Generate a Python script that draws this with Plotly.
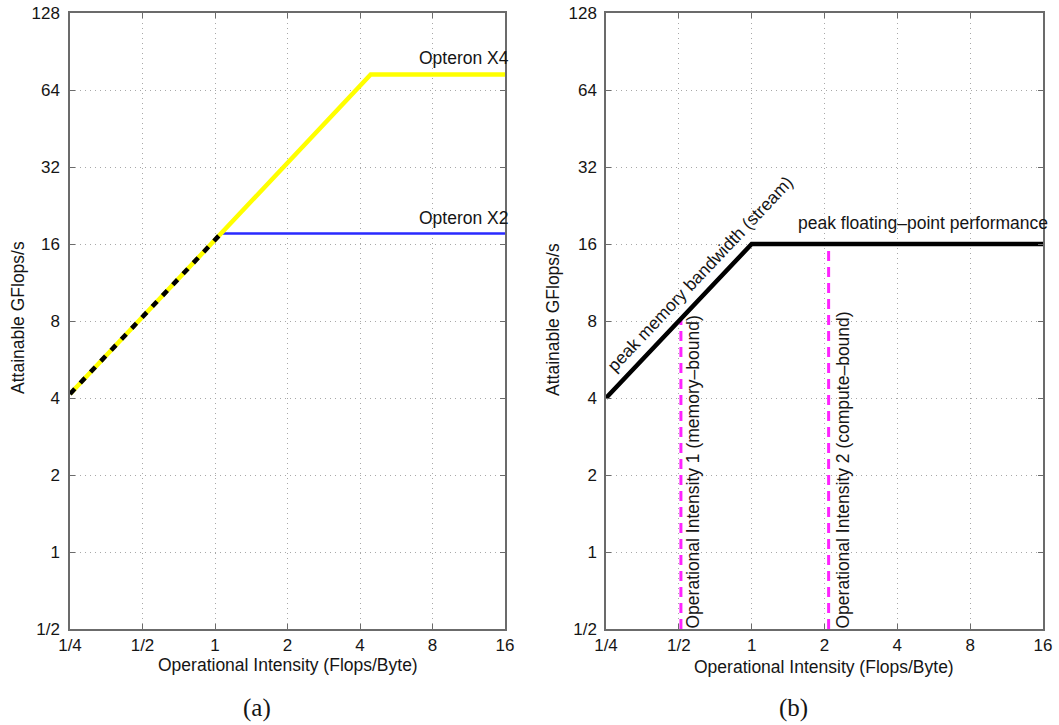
import math
import plotly.graph_objects as go

# ---------------- data ----------------
x_ticks = [0.25, 0.5, 1, 2, 4, 8, 16]
x_tick_text = ["1/4", "1/2", "1", "2", "4", "8", "16"]
y_ticks = [0.5, 1, 2, 4, 8, 16, 32, 64, 128]
y_tick_text = ["1/2", "1", "2", "4", "8", "16", "32", "64", "128"]

# panel (a): Opteron rooflines
x2_oi = [0.25, 1.06, 16]
x2_perf = [4.15, 17.6, 17.6]
x4_oi = [0.25, 4.43, 16]
x4_perf = [4.15, 73.6, 73.6]
x2_slope_oi = [0.25, 1.06]
x2_slope_perf = [4.15, 17.6]

# panel (b): generic roofline
roof_oi = [0.25, 1, 16]
roof_perf = [4, 16, 16]
oi1 = 0.51
oi2 = 2.08
oi1_top = 8.16
oi2_top = 16

W, H = 1059, 725
FONT = "Liberation Sans, Arial, sans-serif"
AX = "#6b6b6b"
TXT = "#151515"

fig = go.Figure()

# ---- panel (a)
fig.add_trace(go.Scatter(x=x2_oi, y=x2_perf, mode="lines", xaxis="x", yaxis="y",
                         line=dict(color="#2a2aff", width=2.5), showlegend=False))
fig.add_trace(go.Scatter(x=x4_oi, y=x4_perf, mode="lines", xaxis="x", yaxis="y",
                         line=dict(color="#ffff00", width=4.5), showlegend=False))
fig.add_trace(go.Scatter(x=x2_slope_oi, y=x2_slope_perf, mode="lines", xaxis="x", yaxis="y",
                         line=dict(color="black", width=4.5, dash="7px,8px"), showlegend=False))

# ---- panel (b)
fig.add_trace(go.Scatter(x=[oi1, oi1], y=[0.5, oi1_top], mode="lines", xaxis="x2", yaxis="y2",
                         line=dict(color="#ff22ff", width=3, dash="10px,6px"), showlegend=False))
fig.add_trace(go.Scatter(x=[oi2, oi2], y=[0.5, oi2_top], mode="lines", xaxis="x2", yaxis="y2",
                         line=dict(color="#ff22ff", width=3, dash="10px,6px"), showlegend=False))
fig.add_trace(go.Scatter(x=roof_oi, y=roof_perf, mode="lines", xaxis="x2", yaxis="y2",
                         line=dict(color="black", width=4.5), showlegend=False))

ax_common = dict(type="log", showline=True, linecolor=AX, linewidth=1.5, mirror="ticks",
                 ticks="inside", ticklen=5, tickcolor=AX, tickwidth=1, automargin=False,
                 showgrid=True, gridcolor="#a8a8a8", griddash="1px,4px", gridwidth=1,
                 zeroline=False, tickfont=dict(family=FONT, size=17, color=TXT))

xr = [math.log10(0.25), math.log10(16)]
yr = [math.log10(0.5), math.log10(128)]
ydom = [1 - 629 / H, 1 - 13 / H]

fig.update_layout(
    width=W, height=H, margin=dict(l=0, r=0, t=0, b=0, autoexpand=False),
    paper_bgcolor="white", plot_bgcolor="white",
    font=dict(family=FONT, color=TXT),
    xaxis=dict(ax_common, domain=[70 / W, 505 / W], range=xr, anchor="y",
               tickvals=x_ticks, ticktext=x_tick_text),
    yaxis=dict(ax_common, domain=ydom, range=yr, anchor="x", ticklabelstandoff=5,
               tickvals=y_ticks, ticktext=y_tick_text),
    xaxis2=dict(ax_common, domain=[606 / W, 1043 / W], range=xr, anchor="y2",
                tickvals=x_ticks, ticktext=x_tick_text),
    yaxis2=dict(ax_common, domain=ydom, range=yr, anchor="x2", ticklabelstandoff=4,
                tickvals=y_ticks, ticktext=y_tick_text),
)

def ann(text, x, y, xref="paper", yref="paper", size=17.5, angle=0, xa="center", ya="middle",
        family=FONT):
    fig.add_annotation(text=text, x=x, y=y, xref=xref, yref=yref, showarrow=False,
                       textangle=angle, xanchor=xa, yanchor=ya,
                       font=dict(family=family, size=size, color=TXT))

# axis titles
ann("Operational Intensity (Flops/Byte)", 288 / W, 1 - 665 / H)
ann("Operational Intensity (Flops/Byte)", 824 / W, 1 - 667 / H)
ann("Attainable GFlops/s", 18 / W, 1 - 318 / H, angle=-90)
ann("Attainable GFlops/s", 553 / W, 1 - 320 / H, angle=-90)

# panel labels
ann("(a)", 257 / W, 1 - 708 / H, size=25, family="Liberation Serif, Times New Roman, serif")
ann("(b)", 793 / W, 1 - 708 / H, size=25, family="Liberation Serif, Times New Roman, serif")

# panel (a) labels
ann("Opteron X4", 511 / W, 1 - 58 / H, xa="right")
ann("Opteron X2", 511 / W, 1 - 218 / H, xa="right")

# panel (b) labels
ann("peak floating\u2013point performance", 1050 / W, 1 - 223 / H, xa="right")
ann("peak memory bandwidth (stream)", math.log10(0.612), math.log10(12.2), xref="x2", yref="y2",
    angle=-46.6)
ann("Operational Intensity 1 (memory\u2013bound)", 692 / W, 1 - 631 / H, angle=-90, ya="bottom")
ann("Operational Intensity 2 (compute\u2013bound)", 842 / W, 1 - 631 / H, angle=-90, ya="bottom")

fig.write_html("out.html")
